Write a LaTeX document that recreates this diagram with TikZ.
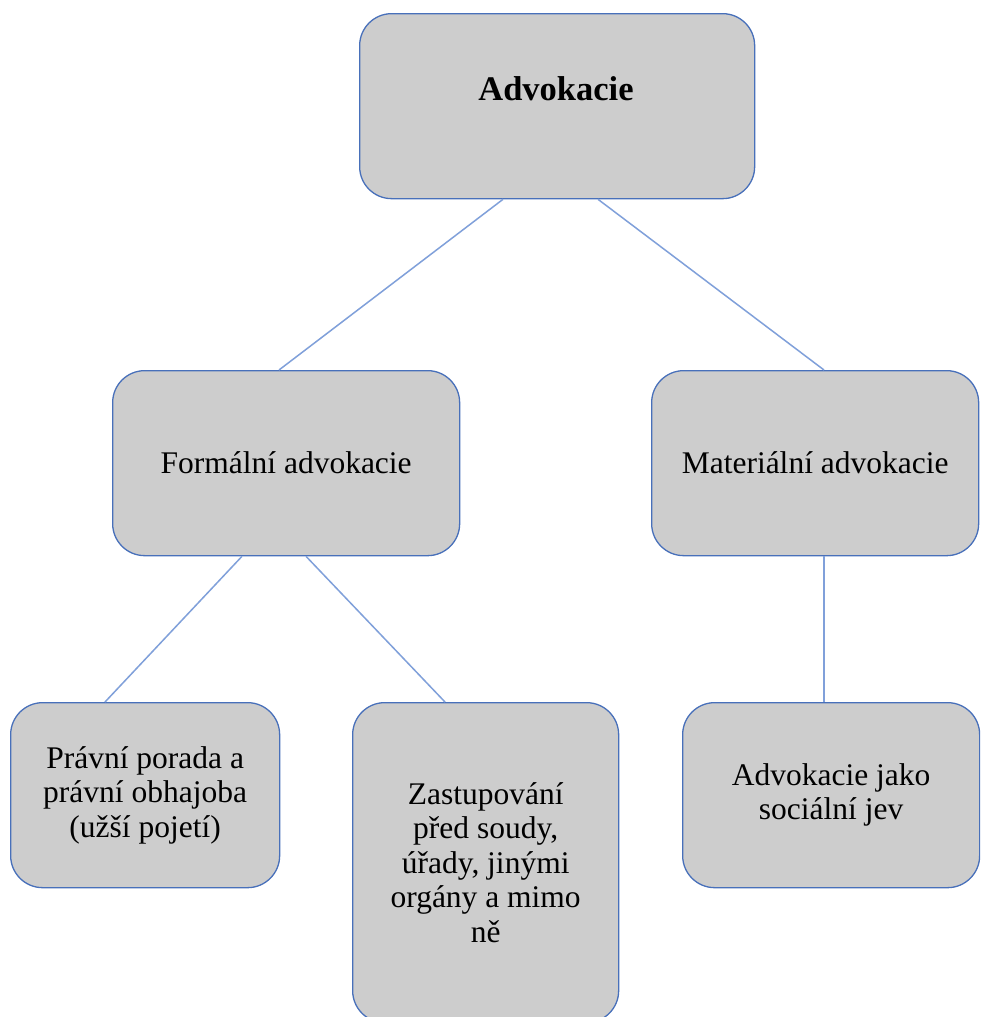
\documentclass[tikz,border=0pt]{standalone}
\usepackage{fontspec}
\setmainfont{Liberation Serif}
\definecolor{boxfill}{RGB}{205,205,205}
\definecolor{boxline}{RGB}{72,112,186}
\definecolor{conn}{RGB}{128,160,218}
\begin{document}
\begin{tikzpicture}[x=1pt,y=-1pt,
  box/.style={draw=boxline, line width=1.3pt, fill=boxfill, rounded corners=32pt,
    anchor=north west, inner sep=0pt, align=center,
    font=\fontsize{31.5}{34.5}\selectfont},
  link/.style={draw=conn, line width=1.5pt}]
\clip (0,0) rectangle (980,1017);
\fill[white] (0,0) rectangle (980,1017);
% boxes
\node[box, minimum width=395pt, minimum height=185pt] (top) at (359,13) {};
\node[font=\fontsize{34.5}{40}\selectfont\bfseries] (toptext) at (556,89) {Advokacie};
\node[box, minimum width=347pt, minimum height=185pt] (form) at (112,370) {Formální advokacie};
\node[box, minimum width=327pt, minimum height=185pt] (mat) at (651,370) {Materiální advokacie};
\node[box, minimum width=269pt, minimum height=185pt] (prav) at (10,702) {Právní porada a\\právní obhajoba\\(užší pojetí)};
\node[box, minimum width=266pt, minimum height=320pt] (zast) at (352,702) {Zastupování\\před soudy,\\úřady, jinými\\orgány a mimo\\ně};
\node[box, minimum width=297pt, minimum height=185pt] (adv) at (682,702) {Advokacie jako\\sociální jev};
% connectors
\draw[link] ([xshift=144pt]top.south west) -- ([xshift=167pt]form.north west);
\draw[link] ([xshift=239pt]top.south west) -- ([xshift=173pt]mat.north west);
\draw[link] ([xshift=130pt]form.south west) -- ([xshift=95pt]prav.north west);
\draw[link] ([xshift=194pt]form.south west) -- ([xshift=93pt]zast.north west);
\draw[link] ([xshift=173pt]mat.south west) -- ([xshift=142pt]adv.north west);
\end{tikzpicture}
\end{document}
